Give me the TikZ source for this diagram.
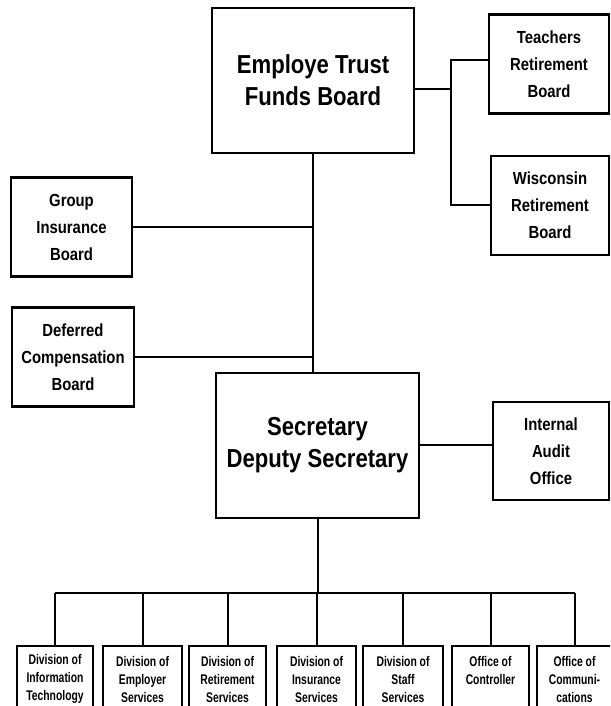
\documentclass[tikz,border=0pt]{standalone}
\usepackage{fontspec}
\setmainfont{Liberation Sans}[FakeStretch=0.85]
\newfontfamily\narrowfont{Liberation Sans}[FakeStretch=0.74]
\usepackage{tikz}
\usetikzlibrary{positioning}

\begin{document}
\begin{tikzpicture}[x=1pt, y=1pt,
    box/.style = {draw, line width=2.2pt, align=center, inner sep=0pt, font=\bfseries},
    bigbox/.style = {box, minimum width=202pt, minimum height=145pt, font=\bfseries\fontsize{26}{32}\selectfont},
    midbox/.style = {box, minimum width=120pt, minimum height=99pt, font=\bfseries\fontsize{17.5}{27}\selectfont},
    divbox/.style = {box, anchor=north, minimum height=66pt, font=\narrowfont\bfseries\fontsize{14}{18}\selectfont},
    line/.style = {line width=2pt}]
    \useasboundingbox (0,0) rectangle (610,706);
    \clip (0,0) rectangle (610,706);
    % Consiglio e vertici
    \node[bigbox] (etf) at (313,625.5) {Employe Trust\\Funds Board};
    \node[bigbox, minimum width=203pt] (sec) at (317.5,260.5) {Secretary\\Deputy Secretary};
    % Consigli laterali
    \node[midbox] (tea) at (549,642) {Teachers\\Retirement\\Board};
    \node[midbox, minimum width=118pt] (wis) at (550,500.5) {Wisconsin\\Retirement\\Board};
    \node[midbox, minimum width=121pt] (gib) at (71.5,479) {Group\\Insurance\\Board};
    \node[midbox, minimum width=122pt] (dcb) at (73,349) {Deferred\\Compensation\\Board};
    \node[midbox, minimum width=116pt, minimum height=98pt] (iao) at (551,255) {Internal\\Audit\\Office};
    % Divisioni
    \node[divbox, minimum width=76pt] (d1) at (55,61) {Division of\\Information\\Technology};
    \node[divbox, minimum width=79pt] (d2) at (142.5,61) {Division of\\Employer\\Services};
    \node[divbox, minimum width=77pt] (d3) at (227.5,61) {Division of\\Retirement\\Services};
    \node[divbox, minimum width=79pt] (d4) at (316.5,61) {Division of\\Insurance\\Services};
    \node[divbox, minimum width=80pt] (d5) at (403,61) {Division of\\Staff\\Services};
    \node[divbox, minimum width=77pt] (d6) at (490.5,61) {Office of\\Controller\\~};
    \node[divbox, minimum width=75pt] (d7) at (574.5,61) {Office of\\Communi-\\cations};
    % Collegamenti in alto
    \draw[line] (etf.east) ++(0,-8.5) -- ++(36,0) coordinate (j1);
    \draw[line] (tea.west) ++(0,4) -| (j1) |- (wis.west);
    \draw[line] (etf.south) -- (etf.south |- sec.north);
    \draw[line] (gib.east) -- (gib.east -| etf.south);
    \draw[line] (dcb.east) -- (dcb.east -| etf.south);
    \draw[line] (sec.east) -- (sec.east -| iao.west);
    % Collegamenti in basso
    \draw[line] (sec.south) -- ++(0,-74) coordinate (b0);
    \draw[line] (d1.north |- b0) -- (d7.north |- b0);
    \foreach \i in {1,...,7}
        \draw[line] (d\i.north) -- (d\i.north |- b0);
\end{tikzpicture}
\end{document}
